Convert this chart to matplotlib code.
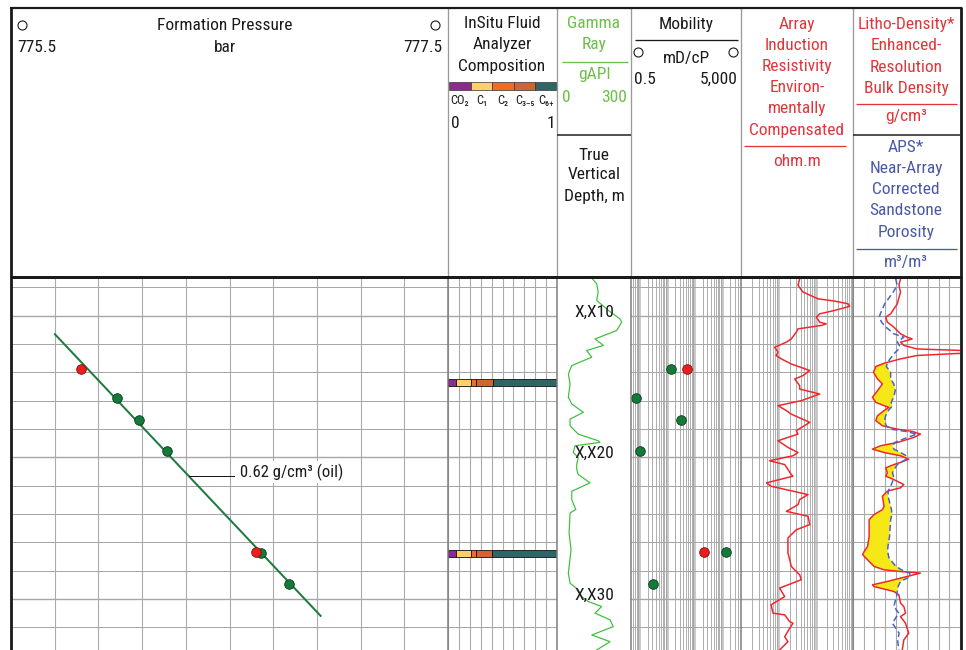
import numpy as np
import matplotlib
matplotlib.use('Agg')
import matplotlib.pyplot as plt
from matplotlib import font_manager
from matplotlib.lines import Line2D
from matplotlib.patches import Rectangle

# ---------------- fonts ----------------
_avail = {f.name for f in font_manager.fontManager.ttflist}
_main = 'DejaVu Sans'
for _c in ['Liberation Sans Narrow', 'Roboto Condensed', 'Arial Narrow', 'Open Sans Condensed', 'Liberation Sans']:
    if _c in _avail:
        _main = _c
        break
plt.rcParams['font.family'] = [_main, 'DejaVu Sans']

# ---------------- data ----------------
# depth in m below X,X00
press_green_depth = [15.80, 17.33, 19.55, 26.77, 28.94]
press_green_bar = [775.984, 776.087, 776.215, 776.644, 776.774]
press_red_depth = [13.75, 26.70]
press_red_bar = [775.820, 776.621]
grad_depth = [11.30, 31.18]
grad_bar = [775.701, 776.917]
grad_label = "0.62 g/cm³ (oil)"
grad_label_depth = 21.32

fluid_names = ['CO₂', 'C₁', 'C₂', 'C₃₋₅', 'C₆₊']
fluid_depth = [14.70, 26.76]
fluid_co2 = [0.077, 0.077]
fluid_c1 = [0.138, 0.138]
fluid_c2 = [0.046, 0.046]
fluid_c35 = [0.153, 0.147]
fluid_c6 = [0.586, 0.592]

mob_green_depth = [13.75, 15.80, 17.33, 19.55, 26.70, 28.94]
mob_green = [13.9, 0.74, 32.0, 1.06, 1425.0, 3.2]
mob_red_depth = [13.75, 26.70]
mob_red = [53.0, 226.0]

depth_ticks = [10, 20, 30]
depth_labels = ['X,X10', 'X,X20', 'X,X30']

gr_depth = [7.26, 7.74, 8.32, 8.91, 9.62, 10.21, 10.45, 11.04, 11.63, 12.09,
            12.45, 12.92, 13.51, 14.10, 14.81, 15.75, 16.23, 16.81, 17.29, 17.76,
            18.35, 18.82, 18.94, 19.17, 19.65, 20.00, 20.47, 20.85, 21.20, 21.79,
            22.38, 22.97, 23.68, 23.91, 25.33, 26.51, 28.16, 28.87, 29.34, 29.82,
            30.17, 30.52, 30.99, 31.46, 31.94, 32.53, 33.00, 33.59]
gr_api = [137, 161, 167, 161, 208, 255, 262, 242, 154, 188,
          120, 141, 60, 46, 53, 46, 60, 107, 53, 53,
          86, 167, 174, 73, 66, 86, 80, 80, 86, 134,
          60, 60, 76, 53, 49, 57, 46, 53, 86, 100,
          127, 181, 154, 215, 228, 141, 215, 161]

res_depth = [7.38, 7.85, 8.32, 8.80, 8.96, 9.15, 9.33, 9.62, 9.86, 10.09,
             10.45, 10.57, 10.68, 10.92, 11.15, 11.63, 11.86, 12.22, 12.57, 12.80,
             13.04, 13.40, 13.86, 14.22, 14.46, 14.93, 15.17, 15.52, 15.99, 16.34,
             16.69, 16.94, 17.52, 18.11, 18.35, 18.82, 19.29, 19.65, 19.88, 20.23,
             20.50, 21.20, 21.32, 21.79, 22.03, 22.62, 22.97, 23.33, 23.80, 24.15,
             24.74, 25.10, 25.68, 26.74, 27.22, 27.69, 28.28, 28.63, 29.22, 29.82,
             30.40, 30.99, 31.11, 31.59, 31.70, 32.05, 32.65, 33.00, 33.59]
res_ohmm = [37.3, 33.6, 45.7, 115, 323, 734, 816, 323, 128, 104,
            128, 192, 142, 33.6, 30.3, 22.2, 16.4, 8.0, 9.8, 8.7,
            12.0, 22.2, 69.3, 45.7, 27.5, 37.3, 37.3, 128, 41.2, 9.8,
            16.4, 22.2, 69.3, 30.3, 33.6, 9.8, 18.1, 33.6, 24.7, 5.8,
            14.8, 22.2, 24.7, 4.8, 6.4, 62.3, 37.3, 33.6, 16.4, 62.3,
            69.3, 30.3, 18.1, 18.1, 20.2, 22.2, 37.3, 41.2, 10.8, 14.8,
            6.4, 7.2, 14.8, 20.2, 24.7, 20.2, 14.8, 18.1, 10.8]

dens_depth = [7.38, 7.85, 8.32, 9.15, 9.86, 10.09, 10.45, 10.80, 11.27, 11.51,
              11.63, 11.74, 11.86, 12.09, 12.34, 12.45, 12.64, 12.80, 13.04, 13.35,
              13.58, 13.98, 14.46, 14.81, 15.28, 15.75, 16.11, 16.34, 16.46, 16.69,
              17.05, 17.40, 17.76, 18.00, 18.16, 18.35, 18.59, 18.94, 19.17, 19.41,
              19.65, 19.88, 20.12, 20.35, 20.50, 20.73, 21.08, 21.32, 21.56, 21.91,
              22.14, 22.38, 22.74, 23.45, 23.68, 24.03, 24.39, 25.57, 26.28, 26.63,
              26.86, 27.10, 27.69, 27.93, 28.05, 28.16, 28.40, 28.75, 28.99, 29.11,
              29.46, 29.70, 30.28, 30.52, 30.99, 31.23, 31.70, 32.41, 32.88, 33.59]
rhob = [2.394, 2.379, 2.394, 2.364, 2.302, 2.256, 2.271, 2.332, 2.394, 2.456,
        2.503, 2.456, 2.394, 2.425, 2.549, 2.98, 2.98, 2.549, 2.394, 2.240,
        2.163, 2.142, 2.179, 2.225, 2.179, 2.132, 2.163, 2.240, 2.286, 2.240,
        2.179, 2.163, 2.225, 2.364, 2.503, 2.580, 2.518, 2.364, 2.209, 2.132,
        2.240, 2.394, 2.471, 2.394, 2.332, 2.256, 2.271, 2.256, 2.332, 2.425,
        2.394, 2.271, 2.225, 2.240, 2.225, 2.147, 2.101, 2.101, 2.086, 2.055,
        2.040, 2.070, 2.147, 2.240, 2.394, 2.580, 2.456, 2.271, 2.132, 2.147,
        2.332, 2.379, 2.394, 2.425, 2.441, 2.394, 2.441, 2.471, 2.425, 2.410]
nphi = [0.211, 0.202, 0.224, 0.272, 0.297, 0.302, 0.290, 0.265, 0.221, 0.165,
        0.178, 0.189, 0.202, 0.189, 0.193, 0.202, 0.217, 0.227, 0.242, 0.258,
        0.263, 0.239, 0.239, 0.221, 0.213, 0.222, 0.236, 0.229, 0.236, 0.252,
        0.267, 0.273, 0.264, 0.239, 0.156, 0.091, 0.146, 0.216, 0.227, 0.221,
        0.183, 0.151, 0.152, 0.183, 0.202, 0.213, 0.229, 0.223, 0.224, 0.235,
        0.243, 0.253, 0.253, 0.239, 0.234, 0.232, 0.239, 0.245, 0.254, 0.256,
        0.252, 0.248, 0.209, 0.178, 0.156, 0.133, 0.128, 0.183, 0.193, 0.197,
        0.202, 0.204, 0.216, 0.221, 0.193, 0.206, 0.229, 0.191, 0.200, 0.193]

# ---------------- styles ----------------
W, H = 966, 650
TOP, HDR, BOT = 8, 277, 650
DEPTH_TOP, DEPTH_BOT = 7.26, 33.59
tracks = {'press': (11, 448), 'fluid': (448, 557), 'depth': (557, 631),
          'mob': (631, 741), 'res': (741, 853), 'dens': (853, 960)}
BLACK = '#1a1a1a'
RED_T = '#e0363a'
GREEN_T = '#6cbf4a'
BLUE_T = '#4a58a8'
fluid_colors = ['#8e2a8e', '#fdd06a', '#f26b22', '#cd6633', '#2f6565']
PX = 0.72  # points per pixel

fig = plt.figure(figsize=(W / 100, H / 100), dpi=100)
fig.patch.set_facecolor('white')


def fx(x):
    return x / W


def fy(y):
    return 1 - y / H


def hline(x0, x1, y, color, lw, z=5):
    fig.add_artist(Line2D([fx(x0), fx(x1)], [fy(y), fy(y)], color=color,
                          lw=lw * PX, transform=fig.transFigure, zorder=z,
                          solid_capstyle='butt'))


def vline(x, y0, y1, color, lw, z=5):
    fig.add_artist(Line2D([fx(x), fx(x)], [fy(y0), fy(y1)], color=color,
                          lw=lw * PX, transform=fig.transFigure, zorder=z,
                          solid_capstyle='butt'))


def txt(x, y, s, color=BLACK, size=12.5, ha='center'):
    fig.text(fx(x), fy(y), s, color=color, fontsize=size, ha=ha, va='center')


def ring(x, y):
    fig.add_artist(Line2D([fx(x)], [fy(y)], marker='o', ms=6.5, mfc='white',
                          mec=BLACK, mew=0.8, transform=fig.transFigure))


def track_axes(key):
    x0, x1 = tracks[key]
    ax = fig.add_axes([fx(x0), fy(BOT), fx(x1) - fx(x0), fy(HDR) - fy(BOT)])
    ax.set_ylim(DEPTH_BOT, DEPTH_TOP)
    for s in ax.spines.values():
        s.set_visible(False)
    ax.tick_params(which='both', length=0, labelleft=False, labelbottom=False)
    ax.set_axisbelow(True)
    return ax


def depth_grid(ax):
    ax.set_yticks(np.arange(8, 33, 2))
    ax.yaxis.grid(True, color='#a6a6a6', lw=1.0 * PX)
    for d in depth_ticks:
        ax.axhline(d, color='#8a8a8a', lw=1.3 * PX, zorder=0.5)


def log_grid(ax, lo, hi):
    ax.set_xscale('log')
    ax.set_xlim(lo, hi)
    majors = [10.0 ** e for e in range(-2, 5) if lo < 10.0 ** e < hi]
    minors = [k * 10.0 ** e for e in range(-2, 5) for k in range(2, 10)
              if lo < k * 10.0 ** e < hi]
    ax.set_xticks(majors)
    ax.set_xticks(minors, minor=True)
    ax.xaxis.grid(True, which='major', color='#c6c6c6', lw=2.8 * PX)
    ax.xaxis.grid(True, which='minor', color='#9c9c9c', lw=0.8 * PX)
    ax.tick_params(which='both', length=0, labelbottom=False)


def lin_grid(ax, lo, hi):
    ax.set_xlim(lo, hi)
    ax.set_xticks(np.linspace(lo, hi, 11))
    ax.xaxis.grid(True, color='#ababab', lw=1.1 * PX)


# ---------------- track 1: formation pressure ----------------
ax1 = track_axes('press')
lin_grid(ax1, 775.5, 777.5)
depth_grid(ax1)
ax1.plot(grad_bar, grad_depth, color='#1f7a3f', lw=2.0 * PX, zorder=3)
ax1.scatter(press_green_bar, press_green_depth, s=48, c='#137a3a',
            edgecolors='#0c3a1c', linewidths=0.6, zorder=4)
ax1.scatter(press_red_bar, press_red_depth, s=48, c='#ee1d1d',
            edgecolors='#7a1010', linewidths=0.6, zorder=5)
_slope = (grad_bar[1] - grad_bar[0]) / (grad_depth[1] - grad_depth[0])
_p_on_line = grad_bar[0] + _slope * (grad_label_depth - grad_depth[0])
ax1.plot([_p_on_line, 776.52], [grad_label_depth, grad_label_depth],
         color=BLACK, lw=1.0 * PX, zorder=5)
ax1.text(776.548, grad_label_depth - 0.3, grad_label, fontsize=12,
         color=BLACK, ha='left', va='center', zorder=6,
         bbox=dict(boxstyle='square,pad=0.15', fc='white', ec='none'))

# ---------------- track 2: fluid composition ----------------
ax2 = track_axes('fluid')
lin_grid(ax2, 0, 1)
depth_grid(ax2)
_parts = [fluid_co2, fluid_c1, fluid_c2, fluid_c35, fluid_c6]
_left = np.zeros(len(fluid_depth))
for vals, col in zip(_parts, fluid_colors):
    ax2.barh(fluid_depth, vals, left=_left, height=0.52, color=col,
             edgecolor='#111111', linewidth=0.6, zorder=3)
    _left = _left + np.array(vals)

# ---------------- track 3: gamma ray + depth ----------------
ax3 = track_axes('depth')
ax3.set_xlim(0, 300)
ax3.plot(gr_api, gr_depth, color='#3cbf3c', lw=1.2 * PX, zorder=2)
for d, lab in zip(depth_ticks, depth_labels):
    ax3.text(150, d + 0.05, lab, ha='center', va='baseline', fontsize=12.5,
             color=BLACK, zorder=4)

# ---------------- track 4: mobility ----------------
ax4 = track_axes('mob')
log_grid(ax4, 0.5, 5000)
depth_grid(ax4)
ax4.scatter(mob_green, mob_green_depth, s=48, c='#137a3a',
            edgecolors='#0c3a1c', linewidths=0.6, zorder=4)
ax4.scatter(mob_red, mob_red_depth, s=48, c='#ee1d1d',
            edgecolors='#7a1010', linewidths=0.6, zorder=5)

# ---------------- track 5: resistivity ----------------
ax5 = track_axes('res')
log_grid(ax5, 1, 1000)
depth_grid(ax5)
ax5.plot(res_ohmm, res_depth, color='#f0262b', lw=1.5 * PX, zorder=3)

# ---------------- track 6: density / porosity ----------------
ax6 = track_axes('dens')
lin_grid(ax6, 1.95, 2.95)
depth_grid(ax6)
_rho = np.array(rhob)
_phi_as_rho = 1.95 + (0.45 - np.array(nphi)) / 0.6
ax6.fill_betweenx(dens_depth, _rho, _phi_as_rho, where=_rho < _phi_as_rho,
                  interpolate=True, color='#f5e816', lw=0, zorder=2)
ax6b = ax6.twiny()
ax6b.set_xlim(0.45, -0.15)
ax6b.set_ylim(DEPTH_BOT, DEPTH_TOP)
ax6b.axis('off')
ax6b.plot(nphi, dens_depth, color='#4a62c4', lw=1.5 * PX, ls=(0, (4, 2.2)),
          zorder=3)
ax6.plot(rhob, dens_depth, color='#f0262b', lw=1.5 * PX, zorder=4)

# ---------------- frame & separators ----------------
for key in ['fluid', 'depth', 'mob', 'res', 'dens']:
    x0 = tracks[key][0]
    vline(x0, TOP, HDR, '#9a9a9a', 1.3)
    vline(x0, HDR, BOT, '#7c7c7c', 1.5)
hline(10, 962, TOP, BLACK, 2.2)
hline(10, 962, HDR, BLACK, 3.0)
vline(11, TOP - 1, BOT, BLACK, 2.8)
vline(960.5, TOP - 1, BOT, BLACK, 2.8)

# ---------------- header ----------------
# formation pressure
txt(225, 25, 'Formation Pressure')
txt(225, 47, 'bar')
txt(17, 47, '775.5', ha='left')
txt(442, 47, '777.5', ha='right')
ring(22, 25)
ring(435, 25)

# fluid analyzer
txt(502, 24, 'InSitu Fluid')
txt(502, 45, 'Analyzer')
txt(502, 67, 'Composition')
_seg = (557 - 449) / 5.0
for i, (nm, col) in enumerate(zip(fluid_names, fluid_colors)):
    fig.add_artist(Rectangle((fx(449 + i * _seg), fy(89.5)), _seg / W, 7.5 / H,
                             transform=fig.transFigure, fc=col,
                             ec='#333333', lw=0.5))
    txt(449 + (i + 0.5) * _seg, 100, nm, size=9)
txt(451, 124, '0', ha='left')
txt(555, 124, '1', ha='right')

# gamma ray / depth
txt(594, 24, 'Gamma', color=GREEN_T)
txt(594, 45, 'Ray', color=GREEN_T)
hline(562, 628, 62, GREEN_T, 1.3)
txt(594, 75, 'gAPI', color=GREEN_T)
txt(562, 98, '0', color=GREEN_T, ha='left')
txt(627, 98, '300', color=GREEN_T, ha='right')
hline(557, 631, 135, BLACK, 1.5)
txt(594, 155, 'True')
txt(594, 175, 'Vertical')
txt(594, 196, 'Depth, m')

# mobility
txt(686, 25, 'Mobility')
hline(635, 738, 40, BLACK, 1.3)
ring(638, 52)
ring(733, 52)
txt(686, 58, 'mD/cP')
txt(634, 79, '0.5', ha='left')
txt(738, 79, '5,000', ha='right')

# resistivity
for i, s in enumerate(['Array', 'Induction', 'Resistivity', 'Environ-',
                       'mentally', 'Compensated']):
    txt(797, 25 + i * 21, s, color=RED_T)
hline(744, 846, 146, RED_T, 1.3)
txt(797, 162, 'ohm.m', color=RED_T)

# density / porosity
for i, s in enumerate(['Litho-Density*', 'Enhanced-', 'Resolution',
                       'Bulk Density']):
    txt(906, 25 + i * 21, s, color=RED_T)
hline(856, 957, 104, RED_T, 1.3)
txt(906, 117, 'g/cm³', color=RED_T)
hline(853, 960, 135, BLACK, 1.5)
for i, s in enumerate(['APS*', 'Near-Array', 'Corrected', 'Sandstone',
                       'Porosity']):
    txt(906, 147 + i * 21.3, s, color=BLUE_T)
hline(856, 957, 249, BLUE_T, 1.3)
txt(906, 263, 'm³/m³', color=BLUE_T)

fig.savefig('out.png', dpi=100, facecolor='white')
